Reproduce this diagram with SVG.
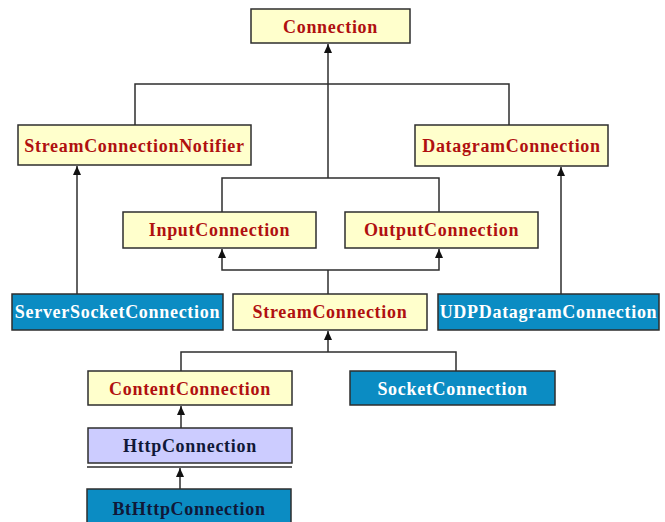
<svg xmlns="http://www.w3.org/2000/svg" width="665" height="522" viewBox="0 0 665 522">
  <style>
    .box { stroke: #2e2e2e; stroke-width: 1.5; }
    .iface { fill: #ffffcc; }
    .impl { fill: #0b8cc3; }
    .http { fill: #ccccff; }
    .lbl { font-family: "Liberation Serif", "Times New Roman", serif; font-weight: bold; font-size: 18px; letter-spacing: 0.7px; text-anchor: middle; }
    .red { fill: #b01010; }
    .white { fill: #ffffff; }
    .dark { fill: #101838; }
    .wire { fill: none; stroke: #2e2e2e; stroke-width: 1.5; }
  </style>
  <defs>
    <!-- filled triangle head, pointing along the path direction -->
    <marker id="arrow" viewBox="0 0 9 8" refX="9" refY="4" markerWidth="9" markerHeight="8" markerUnits="userSpaceOnUse" orient="auto">
      <path d="M0,0 L9,4 L0,8 Z" fill="#111111"/>
    </marker>
  </defs>
  <rect width="665" height="522" fill="#ffffff"/>

  <g id="connectors">
    <!-- Connection hierarchy -->
    <path class="wire" d="M328,178 V44" marker-end="url(#arrow)"/>
    <path class="wire" d="M135,125 V84 H509 V125"/>
    <path class="wire" d="M222,212 V178 H439 V212"/>
    <!-- notifier / datagram -->
    <path class="wire" d="M77,294 V166" marker-end="url(#arrow)"/>
    <path class="wire" d="M561,294 V167" marker-end="url(#arrow)"/>
    <!-- StreamConnection to Input/Output -->
    <path class="wire" d="M328,294 V270"/>
    <path class="wire" d="M328,270 H222 V249" marker-end="url(#arrow)"/>
    <path class="wire" d="M328,270 H439 V249" marker-end="url(#arrow)"/>
    <!-- Content/Socket to StreamConnection -->
    <path class="wire" d="M181,371 V352 H456 V371"/>
    <path class="wire" d="M328,352 V331" marker-end="url(#arrow)"/>
    <!-- Http to Content, BtHttp to Http -->
    <path class="wire" d="M181,428 V406" marker-end="url(#arrow)"/>
    <path class="wire" d="M180,489 V468" marker-end="url(#arrow)"/>
  </g>

  <g id="Connection">
    <rect class="box iface" x="251" y="9" width="159" height="34"/>
    <text class="lbl red" x="330.5" y="33">Connection</text>
  </g>
  <g id="StreamConnectionNotifier">
    <rect class="box iface" x="18" y="125" width="233" height="40"/>
    <text class="lbl red" x="134.5" y="152">StreamConnectionNotifier</text>
  </g>
  <g id="DatagramConnection">
    <rect class="box iface" x="415" y="125" width="193" height="41"/>
    <text class="lbl red" x="511.5" y="152">DatagramConnection</text>
  </g>
  <g id="InputConnection">
    <rect class="box iface" x="123" y="212" width="193" height="36"/>
    <text class="lbl red" x="219.5" y="236">InputConnection</text>
  </g>
  <g id="OutputConnection">
    <rect class="box iface" x="345" y="212" width="193" height="36"/>
    <text class="lbl red" x="441.5" y="236">OutputConnection</text>
  </g>
  <g id="ServerSocketConnection">
    <rect class="box impl" x="12" y="294" width="211" height="36"/>
    <text class="lbl white" x="117.5" y="318">ServerSocketConnection</text>
  </g>
  <g id="StreamConnection">
    <rect class="box iface" x="233" y="294" width="194" height="36"/>
    <text class="lbl red" x="330" y="318">StreamConnection</text>
  </g>
  <g id="UDPDatagramConnection">
    <rect class="box impl" x="438" y="294" width="221" height="36"/>
    <text class="lbl white" x="548.5" y="318">UDPDatagramConnection</text>
  </g>
  <g id="ContentConnection">
    <rect class="box iface" x="88" y="371" width="204" height="34"/>
    <text class="lbl red" x="190" y="395">ContentConnection</text>
  </g>
  <g id="SocketConnection">
    <rect class="box impl" x="350" y="371" width="205" height="34"/>
    <text class="lbl white" x="452.5" y="395">SocketConnection</text>
  </g>
  <g id="HttpConnection">
    <rect class="box http" x="88" y="428" width="204" height="35"/>
    <line x1="87" y1="467" x2="292" y2="467" stroke="#2e2e2e" stroke-width="1.5"/>
    <text class="lbl dark" x="190" y="452">HttpConnection</text>
  </g>
  <g id="BtHttpConnection">
    <rect class="box impl" x="87" y="489" width="204" height="40"/>
    <text class="lbl dark" x="189" y="515">BtHttpConnection</text>
  </g>
</svg>
